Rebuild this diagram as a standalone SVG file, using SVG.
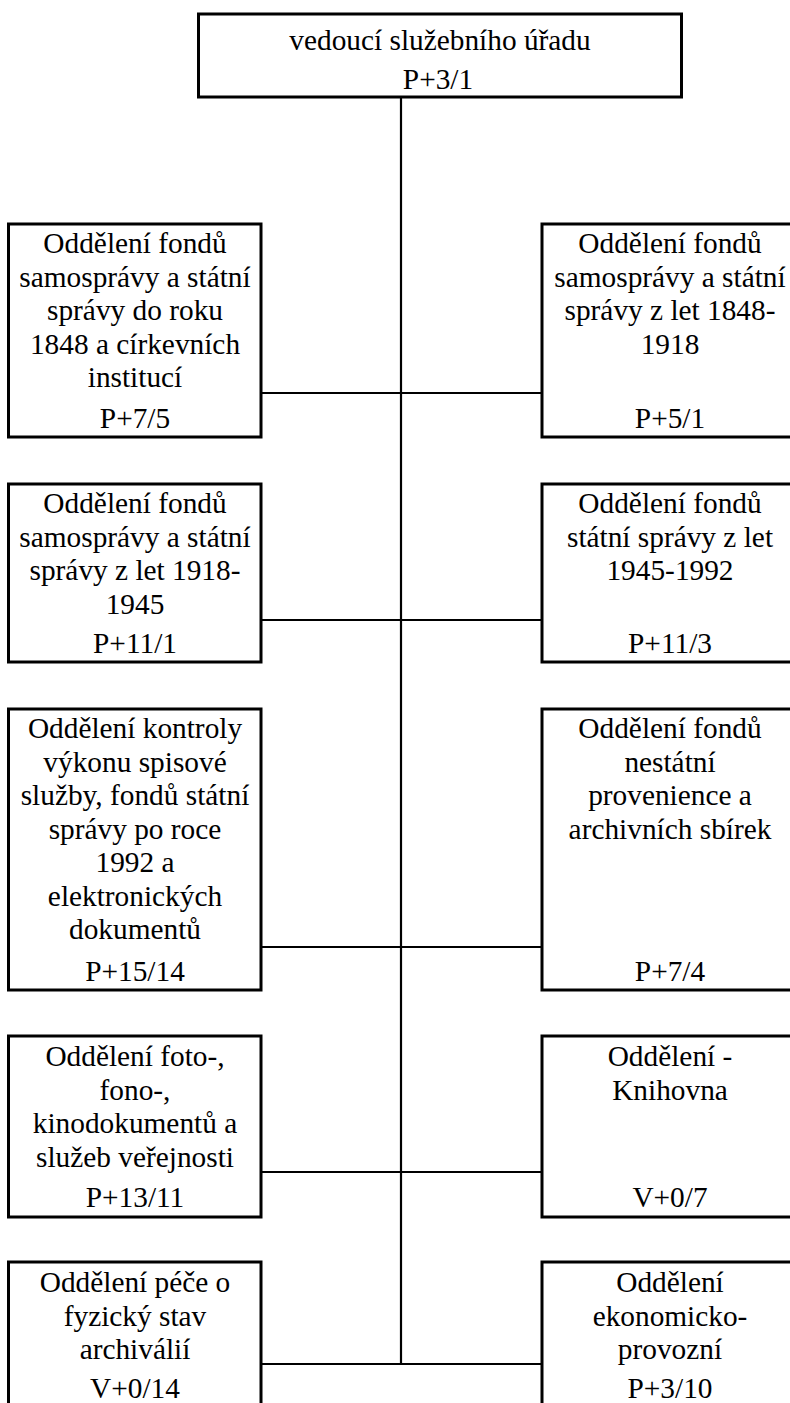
<svg xmlns="http://www.w3.org/2000/svg" width="790" height="1403" viewBox="0 0 790 1403">
<style>
.box{fill:#fff;stroke:#000;stroke-width:3}
.t{font-family:'Liberation Serif','DejaVu Serif',serif;font-size:29.33px;fill:#000;text-anchor:middle}
.c{stroke:#000;stroke-width:2.2;fill:none}
</style>
<rect width="790" height="1403" fill="#fff"/>
<g id="connectors">
<line class="c" x1="401" y1="97" x2="401" y2="1364"/>
<line class="c" x1="261" y1="393" x2="542" y2="393"/>
<line class="c" x1="261" y1="620" x2="542" y2="620"/>
<line class="c" x1="261" y1="947" x2="542" y2="947"/>
<line class="c" x1="261" y1="1172" x2="542" y2="1172"/>
<line class="c" x1="261" y1="1364" x2="542" y2="1364"/>
</g>
<g id="n0">
<rect class="box" x="198.5" y="14" width="483" height="83"/>
<text class="t" font-family="Liberation Serif, serif" x="440" y="50">vedoucí služebního úřadu</text>
<text class="t" font-family="Liberation Serif, serif" x="438" y="89">P+3/1</text>
</g>
<g id="l1">
<rect class="box" x="8.5" y="224" width="252.5" height="213"/>
<text class="t" x="135"><tspan x="135" y="253">Oddělení fondů</tspan><tspan x="135" y="287">samosprávy a státní</tspan><tspan x="135" y="320">správy do roku</tspan><tspan x="135" y="354">1848 a církevních</tspan><tspan x="135" y="387">institucí</tspan><tspan x="135" y="428">P+7/5</tspan></text>
</g>
<g id="r1">
<rect class="box" x="542" y="224" width="256" height="213"/>
<text class="t" x="670"><tspan x="670" y="253">Oddělení fondů</tspan><tspan x="670" y="287">samosprávy a státní</tspan><tspan x="670" y="320">správy z let 1848-</tspan><tspan x="670" y="354">1918</tspan><tspan x="670" y="428">P+5/1</tspan></text>
</g>
<g id="l2">
<rect class="box" x="8.5" y="484" width="252.5" height="178"/>
<text class="t" x="135"><tspan x="135" y="513">Oddělení fondů</tspan><tspan x="135" y="547">samosprávy a státní</tspan><tspan x="135" y="580">správy z let 1918-</tspan><tspan x="135" y="614">1945</tspan><tspan x="135" y="653">P+11/1</tspan></text>
</g>
<g id="r2">
<rect class="box" x="542" y="484" width="256" height="178"/>
<text class="t" x="670"><tspan x="670" y="513">Oddělení fondů</tspan><tspan x="670" y="547">státní správy z let</tspan><tspan x="670" y="580">1945-1992</tspan><tspan x="670" y="653">P+11/3</tspan></text>
</g>
<g id="l3">
<rect class="box" x="8.5" y="709" width="252.5" height="281"/>
<text class="t" x="135"><tspan x="135" y="738">Oddělení kontroly</tspan><tspan x="135" y="772">výkonu spisové</tspan><tspan x="135" y="805">služby, fondů státní</tspan><tspan x="135" y="839">správy po roce</tspan><tspan x="135" y="872">1992 a</tspan><tspan x="135" y="906">elektronických</tspan><tspan x="135" y="939">dokumentů</tspan><tspan x="135" y="981">P+15/14</tspan></text>
</g>
<g id="r3">
<rect class="box" x="542" y="709" width="256" height="281"/>
<text class="t" x="670"><tspan x="670" y="738">Oddělení fondů</tspan><tspan x="670" y="772">nestátní</tspan><tspan x="670" y="805">provenience a</tspan><tspan x="670" y="839">archivních sbírek</tspan><tspan x="670" y="981">P+7/4</tspan></text>
</g>
<g id="l4">
<rect class="box" x="8.5" y="1036" width="252.5" height="181"/>
<text class="t" x="135"><tspan x="135" y="1066">Oddělení foto-,</tspan><tspan x="135" y="1100">fono-,</tspan><tspan x="135" y="1133">kinodokumentů a</tspan><tspan x="135" y="1167">služeb veřejnosti</tspan><tspan x="135" y="1207">P+13/11</tspan></text>
</g>
<g id="r4">
<rect class="box" x="542" y="1036" width="256" height="181"/>
<text class="t" x="670"><tspan x="670" y="1066">Oddělení -</tspan><tspan x="670" y="1100">Knihovna</tspan><tspan x="670" y="1207">V+0/7</tspan></text>
</g>
<g id="l5">
<rect class="box" x="8.5" y="1262" width="252.5" height="170"/>
<text class="t" x="135"><tspan x="135" y="1292">Oddělení péče o</tspan><tspan x="135" y="1326">fyzický stav</tspan><tspan x="135" y="1359">archiválií</tspan><tspan x="135" y="1398">V+0/14</tspan></text>
</g>
<g id="r5">
<rect class="box" x="542" y="1262" width="256" height="170"/>
<text class="t" x="670"><tspan x="670" y="1292">Oddělení</tspan><tspan x="670" y="1326">ekonomicko-</tspan><tspan x="670" y="1359">provozní</tspan><tspan x="670" y="1398">P+3/10</tspan></text>
</g>
</svg>
